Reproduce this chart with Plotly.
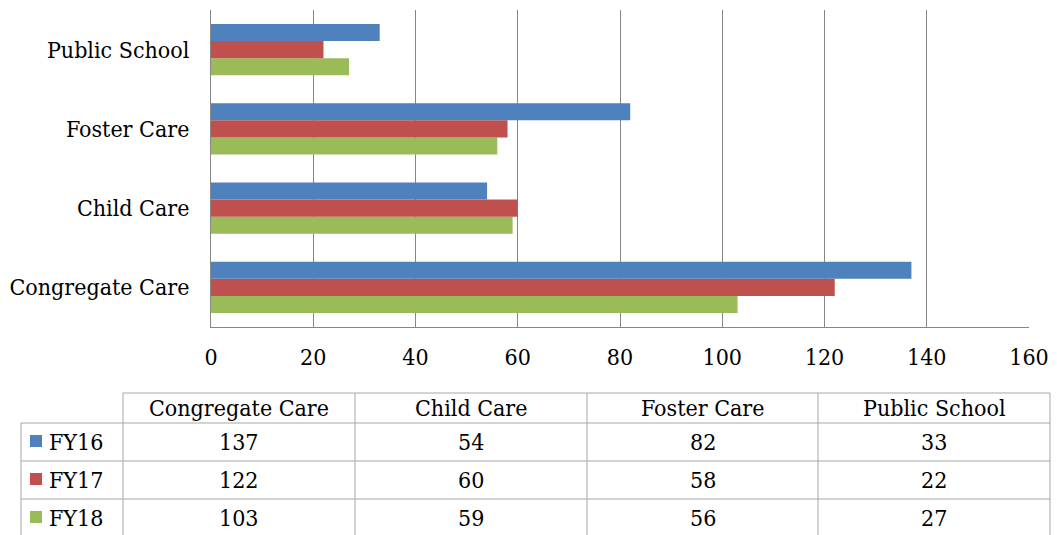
import plotly.graph_objects as go

categories = ["Congregate Care", "Child Care", "Foster Care", "Public School"]
series_names = ["FY16", "FY17", "FY18"]
fy16 = [137, 54, 82, 33]
fy17 = [122, 60, 58, 22]
fy18 = [103, 59, 56, 27]
colors = ["#4F81BD", "#C0504D", "#9BBB59"]
x_ticks = [0, 20, 40, 60, 80, 100, 120, 140, 160]

values = [fy16, fy17, fy18]

W, H = 1057, 535
FONT = "DejaVu Serif Condensed, DejaVu Serif"
FS = 23


def px(x):
    return x / W


def py(y):
    return 1 - y / H


fig = go.Figure()
# Plotly stacks horizontal groups bottom-up, so add in reverse to put FY16 on top
for name, vals, col in reversed(list(zip(series_names, values, colors))):
    fig.add_trace(go.Bar(
        y=categories, x=vals, name=name, orientation="h",
        marker=dict(color=col, line=dict(width=0)),
        showlegend=False,
    ))

fig.update_layout(
    width=W, height=H,
    margin=dict(l=0, r=0, t=0, b=0),
    paper_bgcolor="white", plot_bgcolor="white",
    barmode="group", bargap=0.355, bargroupgap=0,
    font=dict(family=FONT, size=FS, color="black"),
    xaxis=dict(
        domain=[px(211), px(1029)], range=[0, 160], automargin=False,
        tickvals=x_ticks, showgrid=True, gridcolor="#868686", gridwidth=1,
        showline=True, linecolor="#868686", linewidth=1,
        zeroline=False, ticks="", ticklabelstandoff=9,
        tickfont=dict(family=FONT, size=FS, color="black"),
    ),
    yaxis=dict(
        domain=[py(327), py(10)], automargin=False,
        categoryorder="array", categoryarray=categories,
        showgrid=False, showline=True, linecolor="#868686", linewidth=1,
        ticks="", ticklabelstandoff=16,
        tickfont=dict(family=FONT, size=FS, color="black"),
    ),
)

# ---- data table below the chart ----
LC = "#A6A6A6"
top_h = 393
row_lines = [423, 461, 499, 537]
col_x = [123, 355, 587, 818, 1050]
leg_left = 21

shapes = []


def line(x0, y0, x1, y1):
    shapes.append(dict(type="line", xref="paper", yref="paper",
                       x0=px(x0), y0=py(y0), x1=px(x1), y1=py(y1),
                       line=dict(color=LC, width=1)))


line(col_x[0], top_h, col_x[-1], top_h)
for y in row_lines:
    line(leg_left, y, col_x[-1], y)
line(leg_left, row_lines[0], leg_left, row_lines[-1])
for x in col_x:
    line(x, top_h, x, row_lines[-1])

annotations = []
for i, cat in enumerate(categories):
    cx = (col_x[i] + col_x[i + 1]) / 2
    annotations.append(dict(xref="paper", yref="paper", x=px(cx), y=py((top_h + row_lines[0]) / 2),
                            text=cat, showarrow=False, xanchor="center", yanchor="middle",
                            font=dict(family=FONT, size=FS, color="black")))

for r, (name, vals, col) in enumerate(zip(series_names, values, colors)):
    y0, y1 = row_lines[r], row_lines[r + 1]
    cy = (y0 + y1) / 2
    shapes.append(dict(type="rect", xref="paper", yref="paper",
                       x0=px(30), x1=px(42), y0=py(cy - 7), y1=py(cy + 5),
                       fillcolor=col, line=dict(width=0)))
    annotations.append(dict(xref="paper", yref="paper", x=px(47), y=py(cy),
                            text=name, showarrow=False, xanchor="left", yanchor="middle",
                            font=dict(family=FONT, size=FS, color="black")))
    for i, v in enumerate(vals):
        cx = (col_x[i] + col_x[i + 1]) / 2
        annotations.append(dict(xref="paper", yref="paper", x=px(cx), y=py(cy),
                                text=str(v), showarrow=False, xanchor="center", yanchor="middle",
                                font=dict(family=FONT, size=FS, color="black")))

fig.update_layout(shapes=shapes, annotations=annotations)

fig.write_html("out.html")
